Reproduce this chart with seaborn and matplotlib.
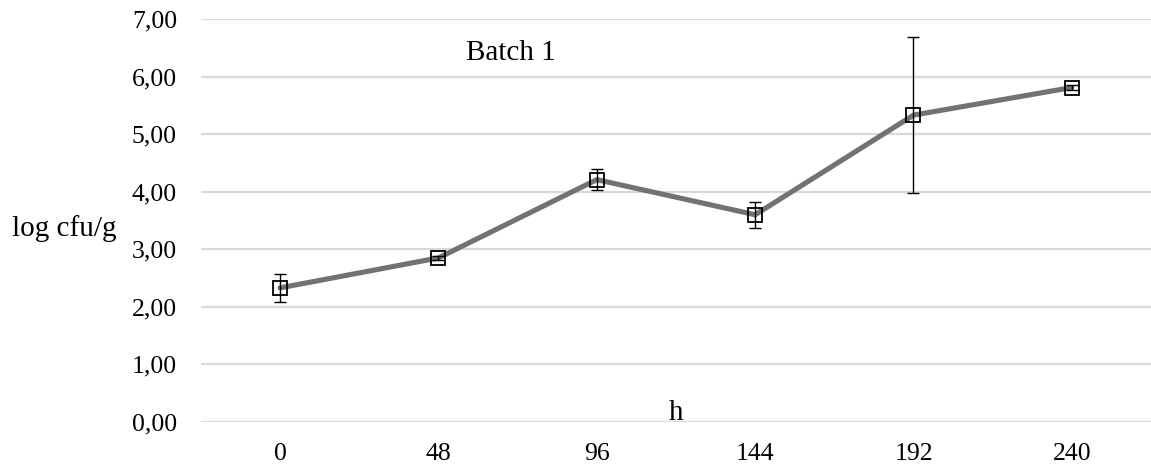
import matplotlib
matplotlib.use("Agg")
import matplotlib.pyplot as plt
import seaborn as sns
import pandas as pd
import numpy as np

hours = ["0", "48", "96", "144", "192", "240"]
log_cfu = [2.33, 2.85, 4.21, 3.60, 5.33, 5.81]
err = [0.24, 0.03, 0.18, 0.23, 1.36, 0.04]
yticks = [0, 1, 2, 3, 4, 5, 6, 7]

sns.set_theme(style="white")
plt.rcParams['font.family'] = ['Liberation Serif', 'DejaVu Serif']

df = pd.DataFrame({"h": hours, "v": log_cfu})

fig = plt.figure(figsize=(11.51, 4.69), dpi=100)
ax = fig.add_axes([0.1746, 0.1002, 0.8254, 0.8593])

for y in yticks:
    ax.axhline(y, color="#d9d9d9", lw=1.6, zorder=0)

sns.lineplot(data=df, x="h", y="v", ax=ax, color="#767171", lw=3.7, sort=False, zorder=2)
pos = np.arange(len(hours))
ax.errorbar(pos, log_cfu, yerr=err, fmt="none", ecolor="black", elinewidth=1, capsize=4.3, capthick=1, zorder=3)
ax.plot(pos, log_cfu, ls="none", marker="s", ms=9.5, mfc="none", mec="black", mew=1.3, zorder=4)

ax.set_xlim(-0.5, len(hours) - 0.5)
ax.set_ylim(0, 7)
ax.set_yticks(yticks)
ax.set_yticklabels([f"{t:.2f}".replace(".", ",") for t in yticks])
ax.set_xticks(pos)
ax.set_xticklabels(hours)
ax.tick_params(axis="y", length=0, pad=17.3, labelsize=18.5, colors="black")
ax.tick_params(axis="x", length=0, pad=15, labelsize=18.5, colors="black")
for s in ax.spines.values():
    s.set_visible(False)
ax.set_xlabel("")
ax.set_ylabel("")
ax.grid(False)

ax.text(1.46, 6.28, "Batch 1", ha="center", va="baseline", fontsize=21, color="black")
ax.text(2.5, 0.03, "h", ha="center", va="baseline", fontsize=21, color="black")
fig.text(64.5 / 1151, 1 - 236 / 469, "log cfu/g", ha="center", va="baseline", fontsize=21, color="black")

fig.savefig("out.png", dpi=100)
